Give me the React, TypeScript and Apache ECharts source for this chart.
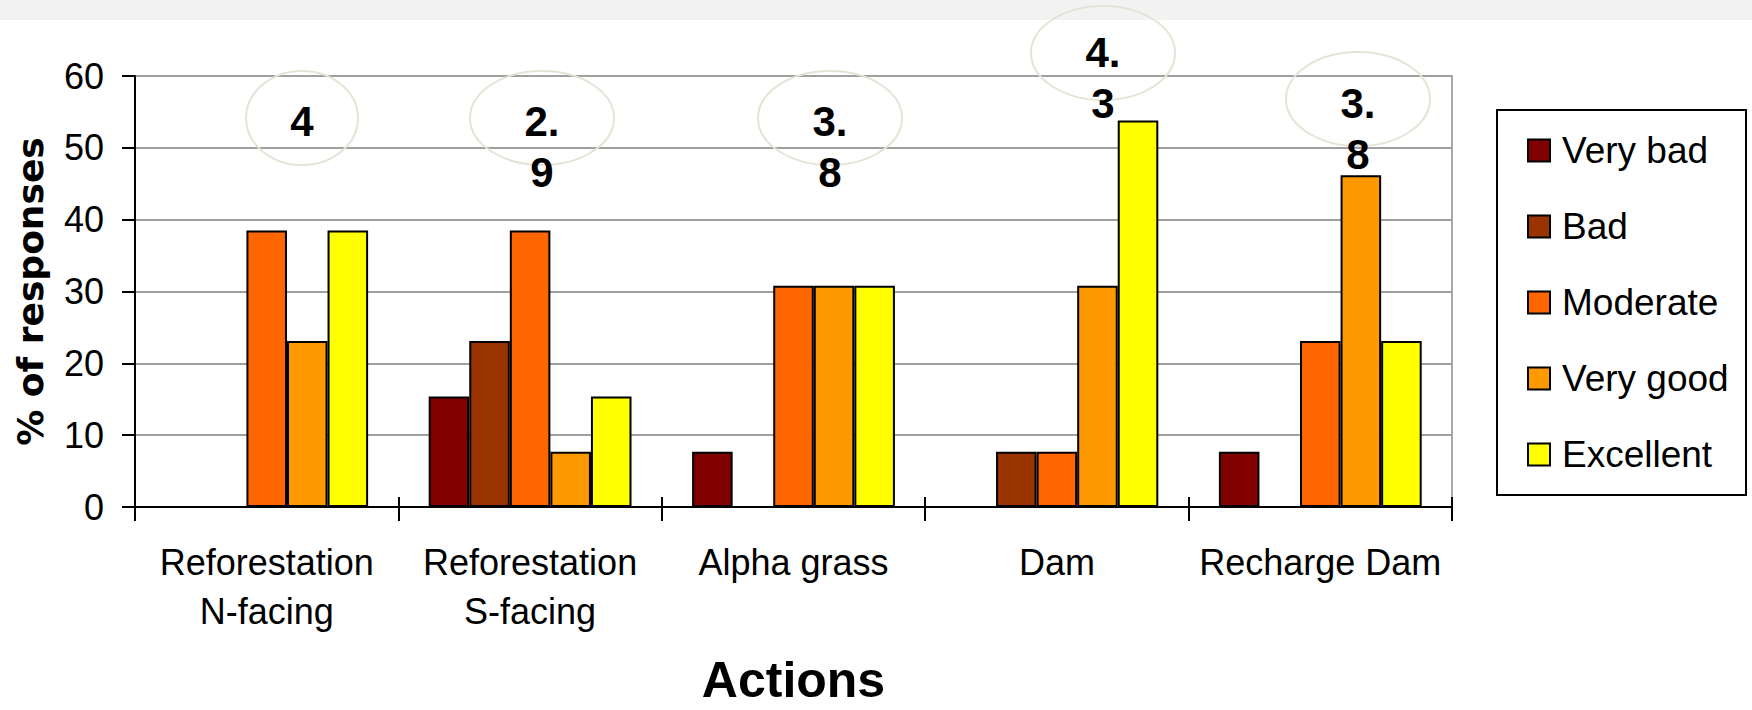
import { useEffect, useRef } from "react";
import * as echarts from "echarts";

// Survey of perceived effectiveness of land-management actions (% of responses)
const actions = [
  "Reforestation\nN-facing",
  "Reforestation\nS-facing",
  "Alpha grass",
  "Dam",
  "Recharge Dam",
];
const ratings = ["Very bad", "Bad", "Moderate", "Very good", "Excellent"];

const veryBad = [0, 15.4, 7.7, 0, 7.7];
const bad = [0, 23.1, 0, 7.7, 0];
const moderate = [38.5, 38.5, 30.8, 7.7, 23.1];
const veryGood = [23.1, 7.7, 30.8, 30.8, 46.2];
const excellent = [38.5, 15.4, 30.8, 53.8, 23.1];

// Mean score per action, shown in the circled badges above the bars
const meanScores = [4, 2.9, 3.8, 4.3, 3.8];

const yMin = 0;
const yMax = 60;
const yStep = 10;

const seriesValues = [veryBad, bad, moderate, veryGood, excellent];
const ratingColors = ["#800000", "#993300", "#FF6600", "#FF9900", "#FFFF00"];

// Badge placement (pixels): text x, first line centre y, ellipse centre y, ellipse x radius
const badgeLayout = [
  { x: 302, y: 121, cy: 118, rx: 56 },
  { x: 542, y: 121, cy: 118, rx: 72 },
  { x: 830, y: 121, cy: 118, rx: 72 },
  { x: 1103, y: 52, cy: 53, rx: 72 },
  { x: 1358, y: 103, cy: 99, rx: 72 },
];

const formatScore = (v: number) =>
  Number.isInteger(v) ? String(v) : v.toFixed(1).replace(".", ".\n");

const LABEL_FONT = "Liberation Sans";

export default function App() {
  const ref = useRef<HTMLDivElement>(null);

  useEffect(() => {
    document.documentElement.style.overflow = "hidden";
    document.body.style.margin = "0";
    document.body.style.overflow = "hidden";
    const chart = echarts.init(ref.current!, null, { renderer: "svg" });

    const badgeLineHeight = 51;
    const badges: any[] = [];
    meanScores.forEach((v, i) => {
      const b = badgeLayout[i];
      badges.push({
        type: "ellipse",
        silent: true,
        z: 10,
        shape: { cx: b.x, cy: b.cy, rx: b.rx, ry: 47 },
        style: { fill: "none", stroke: "#e6e3d6", lineWidth: 2 },
      });
      badges.push({
        type: "text",
        silent: true,
        z: 11,
        x: b.x,
        y: b.y - badgeLineHeight / 2,
        style: {
          text: formatScore(v),
          fill: "#000",
          fontFamily: LABEL_FONT,
          fontWeight: "bold",
          fontSize: 42,
          lineHeight: badgeLineHeight,
          align: "center",
          verticalAlign: "top",
        },
      });
    });

    chart.setOption({
      animation: false,
      backgroundColor: "#ffffff",
      grid: {
        left: 135,
        right: 300,
        top: 76,
        bottom: 196,
        show: true,
        borderColor: "#a8a8a8",
        borderWidth: 2,
        backgroundColor: "transparent",
      },
      legend: {
        orient: "vertical",
        left: 1527,
        top: 132,
        padding: 0,
        itemWidth: 22,
        itemHeight: 22,
        itemGap: 39,
        icon: "rect",
        data: ratings,
        itemStyle: { borderColor: "#000", borderWidth: 2 },
        textStyle: {
          fontFamily: LABEL_FONT,
          fontSize: 37,
          color: "#000",
          lineHeight: 37,
          padding: [0, 0, 0, 7],
        },
      },
      xAxis: [
        {
          type: "category",
          data: actions,
          position: "bottom",
          axisLine: { lineStyle: { color: "#000", width: 2 } },
          axisTick: { show: true, length: 14, lineStyle: { color: "#000", width: 2 } },
          axisLabel: {
            fontFamily: LABEL_FONT,
            fontSize: 36,
            lineHeight: 49,
            color: "#000",
            margin: 31,
            interval: 0,
          },
          name: "Actions",
          nameLocation: "middle",
          nameGap: 173,
          nameTextStyle: {
            fontFamily: LABEL_FONT,
            fontWeight: "bold",
            fontSize: 50,
            color: "#000",
            verticalAlign: "middle",
          },
        },
        {
          type: "category",
          data: actions,
          position: "bottom",
          axisLine: { show: false },
          axisTick: { show: true, inside: true, length: 10, lineStyle: { color: "#000", width: 2 } },
          axisLabel: { show: false },
        },
      ],
      yAxis: {
        type: "value",
        min: yMin,
        max: yMax,
        interval: yStep,
        axisLine: { show: true, lineStyle: { color: "#000", width: 2 } },
        axisTick: { show: true, length: 13, lineStyle: { color: "#000", width: 2 } },
        axisLabel: {
          fontFamily: LABEL_FONT,
          fontSize: 36,
          color: "#000",
          margin: 31,
        },
        splitLine: { lineStyle: { color: "#a0a0a0", width: 2 } },
        name: "% of responses",
        nameLocation: "middle",
        nameRotate: 90,
        nameGap: 105,
        nameTextStyle: {
          fontFamily: "DejaVu Sans",
          fontWeight: "bold",
          fontSize: 36,
          color: "#000",
          verticalAlign: "middle",
        },
      },
      series: ratings.map((name, i) => ({
        name,
        type: "bar",
        xAxisIndex: 0,
        data: seriesValues[i],
        barGap: "0%",
        barCategoryGap: "23%",
        itemStyle: { color: ratingColors[i], borderColor: "#000", borderWidth: 2 },
      })),
      graphic: [
        {
          type: "rect",
          silent: true,
          z: -1,
          shape: { x: 0, y: 0, width: 1752, height: 20 },
          style: { fill: "#f2f2f2" },
        },
        {
          type: "rect",
          silent: true,
          shape: { x: 1497, y: 110, width: 249, height: 385 },
          style: { fill: "none", stroke: "#000", lineWidth: 2 },
        },
        ...badges,
      ],
    });

    return () => chart.dispose();
  }, []);

  return (
    <div
      ref={ref}
      style={{
        position: "fixed",
        left: 0,
        top: 0,
        width: 1752,
        height: 710,
        overflow: "hidden",
        background: "#ffffff",
      }}
    />
  );
}
